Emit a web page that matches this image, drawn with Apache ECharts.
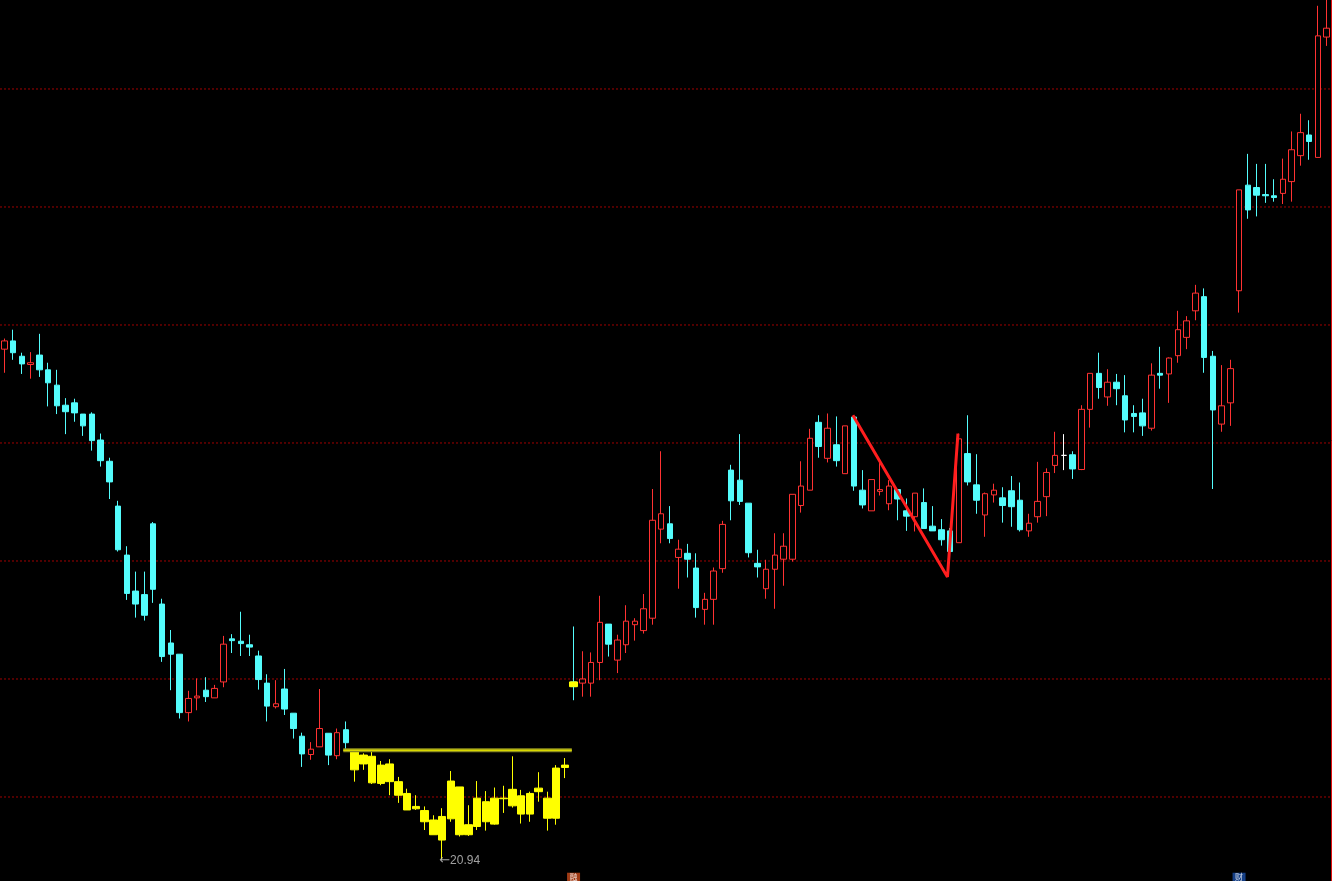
<!DOCTYPE html>
<html><head><meta charset="utf-8">
<script src="https://cdn.jsdelivr.net/npm/echarts@6/dist/echarts.min.js"></script>
<style>html,body{margin:0;padding:0;background:#000;}#c{width:1332px;height:881px;}</style>
</head><body><div id="c"></div>
<script>
// ---- data (prices) ----
const opens = [29.59,29.73,29.47,29.33,29.49,29.24,28.98,28.64,28.68,28.49,28.49,28.05,27.69,26.93,26.10,25.49,25.43,26.63,25.27,24.61,
24.42,23.43,23.68,23.81,23.68,23.95,24.68,24.64,24.58,24.39,23.93,23.53,23.83,23.42,23.03,22.72,22.85,23.08,22.70,23.14,
22.78,22.71,22.69,22.54,22.26,22.26,22.06,21.84,21.77,21.61,21.27,22.27,22.17,21.53,21.50,21.92,21.54,21.98,21.85,22.02,
21.71,22.09,21.98,21.64,22.50,23.95,23.93,23.93,24.28,24.93,24.32,24.58,24.92,24.82,25.03,26.54,26.63,26.06,26.13,25.88,
25.18,25.35,25.87,27.54,27.37,26.98,25.96,25.53,25.86,26.03,26.03,26.94,27.20,28.35,27.74,27.97,27.48,28.44,27.20,26.85,
27.18,26.97,27.21,26.85,26.75,26.99,26.59,26.53,26.51,26.31,27.82,27.29,26.78,27.12,27.07,27.19,27.03,26.51,26.75,27.09,
27.62,27.79,27.80,27.55,28.57,29.18,28.78,29.03,28.80,28.50,28.51,28.25,29.18,29.17,29.48,29.79,30.24,30.48,29.47,28.32,
28.68,30.58,32.37,32.33,32.21,32.19,32.23,32.43,32.87,33.22,32.84,34.88];
const closes = [29.73,29.53,29.34,29.36,29.24,29.02,28.63,28.53,28.51,28.29,28.04,27.70,27.34,26.19,25.45,25.27,25.08,25.52,24.38,24.42,
23.43,23.67,23.71,23.70,23.84,24.59,24.65,24.60,24.54,23.99,23.54,23.58,23.49,23.16,22.73,22.81,23.16,22.71,23.09,22.92,
22.46,22.56,22.24,22.23,22.56,22.03,21.78,21.80,21.58,21.36,21.67,21.63,21.36,21.36,21.98,21.58,21.98,21.97,22.13,21.71,
22.06,22.15,21.64,22.49,22.54,23.87,24.00,24.28,24.96,24.59,24.66,24.98,24.98,25.19,26.69,26.80,26.38,26.20,26.03,25.21,
25.35,25.83,26.62,27.02,27.01,26.14,25.90,25.86,26.10,26.25,27.13,27.27,28.08,27.94,28.25,27.70,28.29,27.27,26.95,27.38,
27.21,27.27,27.05,26.76,27.15,26.55,26.51,26.36,26.16,28.07,27.34,27.03,27.14,27.20,26.94,26.92,26.53,26.64,27.01,27.50,
27.79,27.79,27.56,28.57,29.18,28.94,29.03,28.92,28.39,28.45,28.29,29.15,29.15,29.44,29.92,30.07,30.54,29.45,28.56,28.63,
29.26,32.29,31.95,32.20,32.19,32.16,32.47,32.97,33.26,33.11,34.90,35.03];
const lows = [29.19,29.41,29.17,29.09,29.12,28.62,28.49,28.15,28.36,28.12,27.87,27.60,27.05,26.16,25.34,25.04,24.99,25.29,24.29,23.81,
23.33,23.28,23.47,23.61,23.68,23.86,24.44,24.39,24.39,23.82,23.28,23.50,23.39,22.99,22.51,22.63,22.85,22.54,22.64,22.80,
22.26,22.46,22.22,22.20,22.03,21.90,21.78,21.78,21.44,21.36,20.94,21.58,21.33,21.34,21.44,21.43,21.53,21.73,21.82,21.55,
21.58,21.92,21.43,21.53,22.32,23.64,23.70,23.70,23.98,24.38,24.10,24.44,24.65,24.77,24.92,26.30,26.30,25.53,25.72,25.04,
24.92,24.92,25.80,26.69,26.95,26.06,25.72,25.36,25.19,25.58,25.99,26.82,27.20,27.75,27.67,27.60,27.48,27.19,26.89,26.85,
27.11,26.86,26.69,26.51,26.50,26.55,26.51,26.26,26.16,26.31,27.28,26.80,26.41,26.99,26.65,26.58,26.50,26.41,26.65,26.76,
27.49,27.54,27.39,27.54,28.26,28.75,28.63,28.64,28.18,28.18,28.12,28.21,28.92,28.68,29.36,29.59,30.08,29.19,27.22,28.19,
28.29,30.21,31.80,31.84,32.07,32.09,32.05,32.09,32.70,32.80,32.84,34.73];
const highs = [29.77,29.92,29.53,29.54,29.85,29.36,29.24,28.76,28.75,28.49,28.52,28.16,27.75,27.02,26.25,25.82,25.82,26.66,25.36,24.83,
24.42,23.80,24.01,24.03,23.90,24.73,24.76,25.14,24.75,24.48,24.08,23.98,24.17,23.42,23.09,22.93,23.83,23.08,23.16,23.28,
22.80,22.74,22.77,22.61,22.64,22.34,22.14,22.03,21.84,21.69,21.81,22.44,22.17,21.86,22.27,22.10,22.16,22.19,22.69,22.12,
22.09,22.42,22.09,22.54,22.66,24.89,24.47,24.45,25.41,24.93,24.75,25.25,25.03,25.44,27.22,27.86,26.93,26.36,26.29,26.13,
25.46,25.89,26.68,27.63,28.15,26.98,26.19,26.02,26.47,26.47,27.13,27.69,28.24,28.47,28.50,28.45,28.29,28.47,27.54,27.38,
27.68,27.37,27.21,27.06,27.15,27.23,26.93,26.71,26.56,28.16,28.47,27.81,27.16,27.31,27.25,27.44,27.33,26.80,27.68,27.57,
28.19,28.15,27.86,28.64,29.18,29.53,29.25,29.17,29.15,28.64,28.75,29.35,29.63,29.45,30.24,30.15,30.68,30.62,29.56,29.32,
29.41,32.29,32.90,32.73,32.73,32.47,32.82,33.28,33.58,33.47,35.41,35.51];
const days = opens.map((_, i) => 'D' + (i + 1));
const yellowFrom = 40, yellowTo = 64;
const breakoutIndex = 65;
const boxTop = [[38.7, 22.79], [64.8, 22.79]];
const zigzag = [[96.9, 28.47], [107.7, 25.73], [108.9, 28.16]];
const gridLevels = [22, 24, 26, 28, 30, 32, 34];
const lowMark = {index: 50, value: 20.94, arrow: '←', text: '20.94'};
const markers = [{index: 65, value: 20.64, text: '融'}, {index: 141, value: 20.64, text: '财'}];
const priceMin = 20.576, priceMax = 35.508;

// ---- styles ----
const RED = '#ff3232', CYAN = '#54fcfc', YEL = '#ffff00';
const EMPTY = ['-', '-', '-', '-'];
const n = opens.length;
const mainCandles = opens.map((o, i) => (i >= yellowFrom && i <= yellowTo) ? EMPTY : [o, closes[i], lows[i], highs[i]]);
const yellowCandles = opens.map((o, i) => {
  const c = closes[i];
  if (i >= yellowFrom && i <= yellowTo) return [o, c, lows[i], highs[i]];
  if (i === breakoutIndex) return [o, c, Math.min(o, c), Math.max(o, c)];
  return EMPTY;
});
const gridSeries = gridLevels.map(v => ({
  type: 'line', xAxisIndex: 1, data: [[-0.5, v], [n - 0.5, v]], symbol: 'none', silent: true, z: 1,
  lineStyle: {color: '#a00000', type: [2, 2], width: 1}
}));

const chart = echarts.init(document.getElementById('c'), null, {renderer: 'canvas'});
chart.setOption({
  backgroundColor: '#000',
  animation: false,
  grid: {left: -1, right: 1, top: 0, bottom: 0},
  xAxis: [
    {type: 'category', data: days, boundaryGap: true, show: false},
    {type: 'value', min: -0.5, max: n - 0.5, show: false}
  ],
  yAxis: {
    type: 'value', min: priceMin, max: priceMax, position: 'right',
    axisLine: {show: true, onZero: false, lineStyle: {color: '#e01010', width: 1}},
    axisTick: {show: false}, axisLabel: {show: false}, splitLine: {show: false}
  },
  series: gridSeries.concat([
    {
      type: 'candlestick', data: mainCandles, barWidth: 6, z: 3,
      itemStyle: {color: '#000', color0: CYAN, borderColor: RED, borderColor0: CYAN, borderColorDoji: '#ffffff', borderWidth: 1}
    },
    {
      type: 'candlestick', data: yellowCandles, barWidth: 8, z: 4,
      itemStyle: {color: YEL, color0: YEL, borderColor: YEL, borderColor0: YEL, borderColorDoji: YEL, borderWidth: 1}
    },
    {
      type: 'line', xAxisIndex: 1, data: boxTop, symbol: 'none', z: 5,
      lineStyle: {color: '#8c8c1e', width: 4}
    },
    {
      type: 'line', xAxisIndex: 1, data: boxTop, symbol: 'none', z: 6,
      lineStyle: {color: '#d8d800', width: 1.5}
    },
    {
      type: 'line', xAxisIndex: 1, data: zigzag, symbol: 'none', z: 7,
      lineStyle: {color: '#ff1e1e', width: 3}
    },
    {
      type: 'scatter', data: [[lowMark.index, lowMark.value]], symbolSize: 0, z: 8,
      label: {show: true, position: 'right', distance: 0, offset: [-3, 1],
        formatter: '{a|' + lowMark.arrow + '}{b|' + lowMark.text + '}',
        rich: {
          a: {color: '#c8c8c8', fontSize: 13, fontFamily: 'DejaVu Sans'},
          b: {color: '#c8c8c8', fontSize: 12, fontFamily: 'Liberation Sans'}
        }}
    },
    {
      type: 'scatter', data: markers.map(m => [m.index, m.value]), symbol: 'rect', symbolSize: [13, 9], z: 8,
      itemStyle: {color: (p) => p.dataIndex === 0 ? '#c84a1a' : '#1a4fa8'},
      label: {show: true, position: 'inside', formatter: (p) => markers[p.dataIndex].text,
        color: '#ffffff', fontSize: 8, fontFamily: 'Noto Sans CJK SC'}
    }
  ])
});
</script>
</body></html>
